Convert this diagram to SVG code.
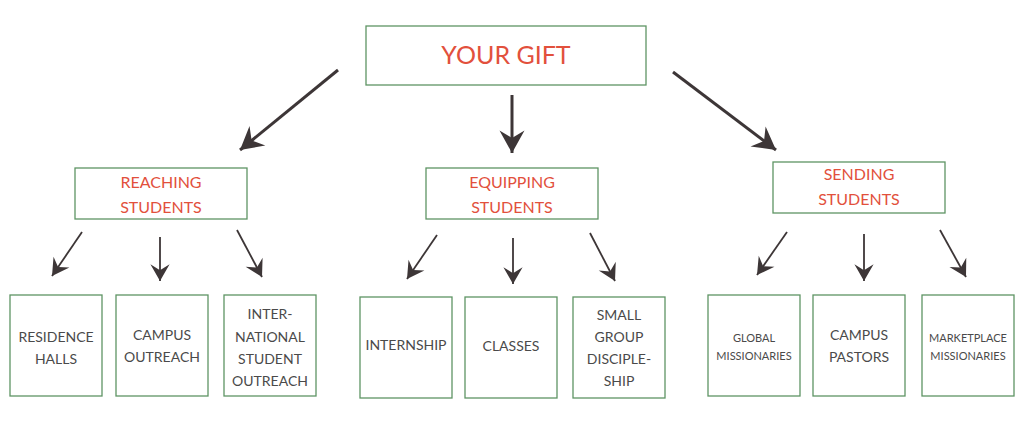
<svg xmlns="http://www.w3.org/2000/svg" width="1024" height="428" viewBox="0 0 1024 428">
<defs>
<marker id="ah" markerUnits="userSpaceOnUse" markerWidth="30" markerHeight="30" viewBox="-20 -12 24 24" refX="0" refY="0" orient="auto"><path d="M0,0 L-18,-10 L-12,0 L-18,10 Z" fill="#3d3637"/></marker>
<marker id="ahs" markerUnits="userSpaceOnUse" markerWidth="24" markerHeight="24" viewBox="-16 -10 20 20" refX="0" refY="0" orient="auto"><path d="M0,0 L-14,-8 L-9,0 L-14,8 Z" fill="#3d3637"/></marker>
</defs>
<style>
.box{fill:#fff;stroke:#5e9464;stroke-width:1.3}
.red{font-family:Lato,"Liberation Sans",sans-serif;fill:#e2503c;text-anchor:middle}
.t{font-family:Lato,"Liberation Sans",sans-serif;fill:#4a4a4a;font-size:14px;text-anchor:middle}
.s{font-size:11px}
.big{stroke:#3d3637;stroke-width:3;fill:none;marker-end:url(#ah)}
.sm{stroke:#3d3637;stroke-width:1.8;fill:none;marker-end:url(#ahs)}
</style>
<rect width="1024" height="428" fill="#fff"/>
<g id="gift"><rect class="box" x="366" y="26" width="280" height="59"/><text class="red" x="506" y="64" font-size="25">YOUR GIFT</text></g>
<g id="reaching"><rect class="box" x="75" y="168" width="172" height="51"/><text class="red" x="161" y="188" font-size="16">REACHING</text><text class="red" x="161" y="213" font-size="16">STUDENTS</text></g>
<g id="equipping"><rect class="box" x="426" y="168" width="172" height="51"/><text class="red" x="512" y="188" font-size="16">EQUIPPING</text><text class="red" x="512" y="213" font-size="16">STUDENTS</text></g>
<g id="sending"><rect class="box" x="773" y="162" width="172" height="51"/><text class="red" x="859" y="180" font-size="16">SENDING</text><text class="red" x="859" y="205" font-size="16">STUDENTS</text></g>
<g id="residence"><rect class="box" x="10" y="295" width="92" height="101"/><text class="t" x="56" y="342">RESIDENCE</text><text class="t" x="56" y="364">HALLS</text></g>
<g id="campusout"><rect class="box" x="116" y="295" width="92" height="101"/><text class="t" x="162" y="340">CAMPUS</text><text class="t" x="162" y="362">OUTREACH</text></g>
<g id="intl"><rect class="box" x="224" y="295" width="92" height="101"/><text class="t" x="270" y="319">INTER-</text><text class="t" x="270" y="342">NATIONAL</text><text class="t" x="270" y="364">STUDENT</text><text class="t" x="270" y="386">OUTREACH</text></g>
<g id="internship"><rect class="box" x="360" y="297" width="92" height="101"/><text class="t" x="406" y="350">INTERNSHIP</text></g>
<g id="classes"><rect class="box" x="465" y="297" width="92" height="101"/><text class="t" x="511" y="351">CLASSES</text></g>
<g id="smallgroup"><rect class="box" x="573" y="297" width="92" height="101"/><text class="t" x="619" y="320">SMALL</text><text class="t" x="619" y="342">GROUP</text><text class="t" x="619" y="364">DISCIPLE-</text><text class="t" x="619" y="386">SHIP</text></g>
<g id="global"><rect class="box" x="708" y="295" width="92" height="101"/><text class="t s" x="754" y="342">GLOBAL</text><text class="t s" x="754" y="360">MISSIONARIES</text></g>
<g id="pastors"><rect class="box" x="813" y="295" width="92" height="101"/><text class="t" x="859" y="340">CAMPUS</text><text class="t" x="859" y="362">PASTORS</text></g>
<g id="market"><rect class="box" x="922" y="295" width="92" height="101"/><text class="t s" x="968" y="342">MARKETPLACE</text><text class="t s" x="968" y="360">MISSIONARIES</text></g>
<g id="connectors">
<line class="big" x1="338" y1="70" x2="240" y2="150"/>
<line class="big" x1="512" y1="95" x2="512" y2="153"/>
<line class="big" x1="673" y1="72" x2="776" y2="150"/>
<line class="sm" x1="82" y1="232" x2="52" y2="276"/>
<line class="sm" x1="160" y1="237" x2="160" y2="281"/>
<line class="sm" x1="237" y1="230" x2="262" y2="277"/>
<line class="sm" x1="437" y1="235" x2="407" y2="279"/>
<line class="sm" x1="513" y1="238" x2="513" y2="284"/>
<line class="sm" x1="590" y1="233" x2="615" y2="281"/>
<line class="sm" x1="787" y1="232" x2="757" y2="275"/>
<line class="sm" x1="864" y1="234" x2="864" y2="281"/>
<line class="sm" x1="940" y1="230" x2="966" y2="277"/>
</g>
</svg>
